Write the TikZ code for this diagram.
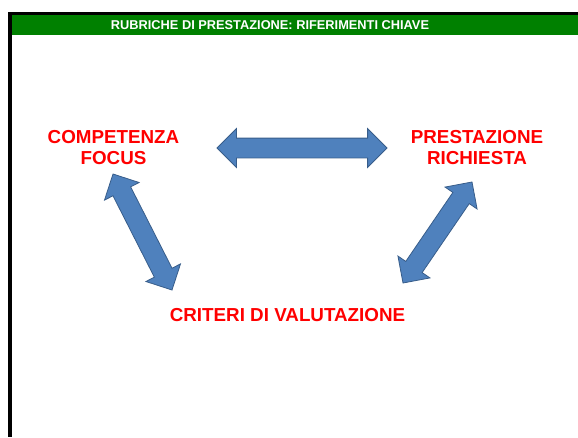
\documentclass[tikz,border=0pt]{standalone}
\usepackage{fontspec}
\setmainfont{Liberation Sans}
\usepackage{tikz}
\usetikzlibrary{shapes,arrows,calc}
\definecolor{slideGreen}{RGB}{0,128,0}
\definecolor{arrowBlue}{RGB}{79,129,189}
\definecolor{arrowEdge}{RGB}{56,93,138}

% block arrow between two named points
\newcommand{\blockarrow}[3]{%
  \path let \p1=($(#3)-(#2)$) in
    node[block arrow, minimum height={veclen(\x1,\y1)}, rotate={atan2(\y1,\x1)}] (#1) at ($(#2)!0.5!(#3)$) {};}

\begin{document}
\begin{tikzpicture}[x=1pt, y=-1pt]%
  \tikzset{block arrow/.style={double arrow, draw=arrowEdge, fill=arrowBlue, line width=0.8pt, inner xsep=0pt, inner ysep=9.5pt, double arrow head extend=9.5pt}}
  \tikzset{key/.style={text=red, align=center, font=\fontsize{18.8}{21}\selectfont\bfseries}}
  \useasboundingbox (0,0) rectangle (578,437);

  % slide frame and title bar
  \fill[black] (8,12) rectangle (578,15);
  \fill[black] (8,12) rectangle (12,437);
  \fill[slideGreen] (12,15) rectangle (578,35);
  \node[text=white, font=\fontsize{12.8}{15}\selectfont\bfseries] (title) at (270,25) {RUBRICHE DI PRESTAZIONE: RIFERIMENTI CHIAVE};

  \node[key] (COMP) at (113.5,147.5) {COMPETENZA\\FOCUS};
  \node[key] (PREST) at (477,147.5) {PRESTAZIONE\\RICHIESTA};
  \node[key] (CRIT) at (287.5,315) {CRITERI DI VALUTAZIONE};

  \coordinate (compE) at (217,148);
  \coordinate (prestW) at (387,148);
  \coordinate (compS) at (113,174);
  \coordinate (critW) at (172,290);
  \coordinate (prestS) at (472,182);
  \coordinate (critE) at (403,283);

  \blockarrow{top arrow}{compE}{prestW}
  \blockarrow{left arrow}{compS}{critW}
  \blockarrow{right arrow}{prestS}{critE}
\end{tikzpicture}
\end{document}
